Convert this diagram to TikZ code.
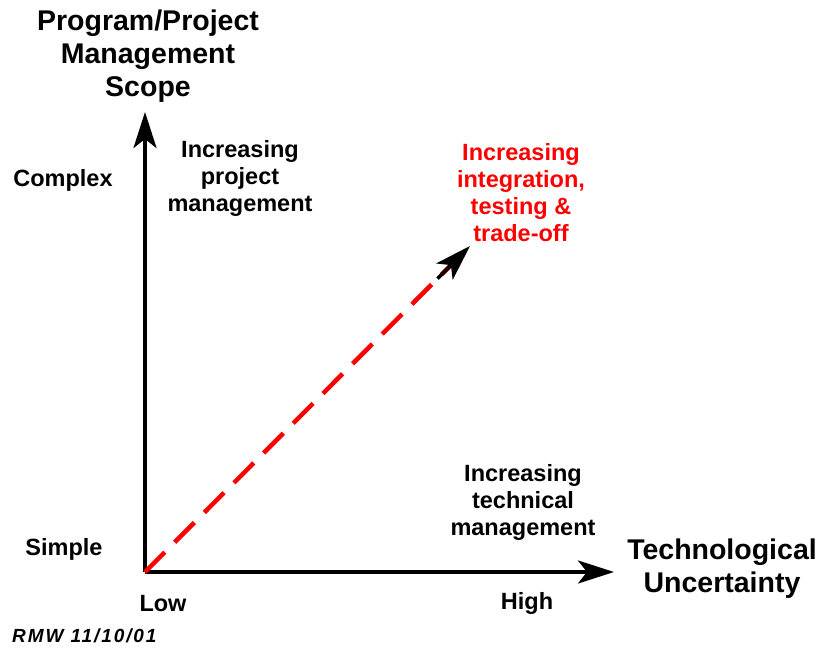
\documentclass[tikz,border=0pt]{standalone}
\usepackage{fontspec}
\setmainfont{Liberation Sans}
\usepackage{xcolor}
\usetikzlibrary{arrows.meta,positioning,calc}
\definecolor{scopered}{RGB}{255,0,0}

\begin{document}
\begin{tikzpicture}[x=1pt,y=-1pt,
    axis/.style={line width=3.5pt, -{Stealth[length=36pt,width=23pt,inset=9pt]}},
    lbl/.style={align=center, inner sep=0pt, font=\bfseries\fontsize{23.5}{27}\selectfont},
    ttl/.style={align=center, inner sep=0pt, font=\bfseries\fontsize{28.5}{33}\selectfont}]
    \useasboundingbox (0,0) rectangle (817,654);

    % Axes
    \coordinate (O) at (145,572);
    \coordinate (ytip) at (145,112);
    \coordinate (xtip) at (614,572);
    \coordinate (dtip) at (470,246);
    \draw[axis] (O) -- (ytip);
    \draw[axis] (O) -- (xtip);

    % Diagonal
    \draw[line width=4.5pt, scopered, dash pattern=on 28pt off 14pt, shorten >=20pt] (O) -- (dtip);
    \draw[line width=3.5pt, -{Stealth[length=36pt,width=23pt,inset=9pt]}] ($(O)!0.9!(dtip)$) -- (dtip);

    % Axis titles
    \node[ttl] (scope) at (148,56) {Program/Project\\Management\\Scope};
    \node[ttl] (uncert) at (722,569) {Technological\\Uncertainty};

    % Scale labels
    \node[lbl] (complex) at (63,180) {Complex};
    \node[lbl] (simple) at (64,549) {Simple};
    \node[lbl] (low) at (163,604) {Low};
    \node[lbl] (high) at (527,603) {High};

    % Notes
    \node[lbl] (proj) at (240,178) {Increasing\\project\\management};
    \node[lbl] (tech) at (523,502) {Increasing\\technical\\management};
    \node[lbl, text=scopered] (integ) at (521,193) {Increasing\\integration,\\testing \&\\trade-off};

    % Date
    \node[font=\bfseries\itshape\fontsize{19}{22}\selectfont\addfontfeature{LetterSpace=10}, inner sep=0pt, anchor=west] (date) at (12,636) {RMW 11/10/01};
\end{tikzpicture}
\end{document}
